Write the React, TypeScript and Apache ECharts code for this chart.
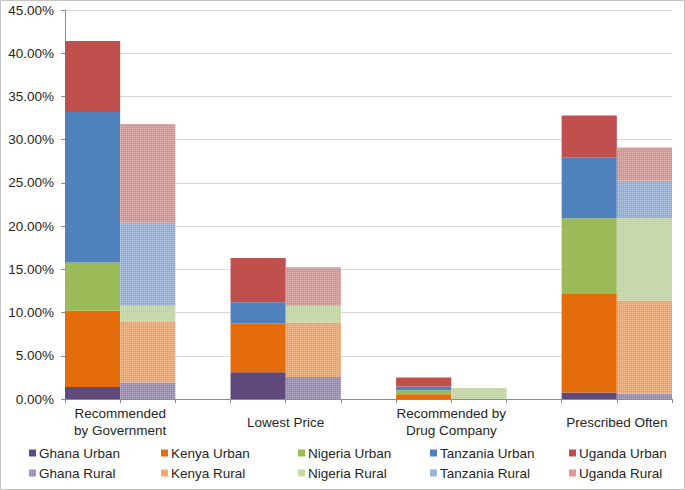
import React, { useEffect, useRef } from "react";
import * as echarts from "echarts";

const groups = ["Recommended\nby Government", "Lowest Price", "Recommended by\nDrug Company", "Prescribed Often"];
const countries = ["Ghana", "Kenya", "Nigeria", "Tanzania", "Uganda"];

const ghanaUrban = [1.4, 3.1, 0, 0.75];
const kenyaUrban = [8.8, 5.65, 0.55, 11.4];
const nigeriaUrban = [5.6, 0, 0.45, 8.75];
const tanzaniaUrban = [17.4, 2.45, 0.45, 7.0];
const ugandaUrban = [8.2, 5.1, 1.05, 4.9];

const ghanaRural = [1.9, 2.55, 0, 0.6];
const kenyaRural = [7.0, 6.3, 0, 10.8];
const nigeriaRural = [1.9, 1.95, 1.27, 9.5];
const tanzaniaRural = [9.6, 0, 0, 4.35];
const ugandaRural = [11.4, 4.45, 0, 3.85];

const yTicks = [0, 5, 10, 15, 20, 25, 30, 35, 40, 45];

const urbanColors = ["#604A7B", "#E46C0A", "#9BBB59", "#4F81BD", "#C0504D"];
const ruralColors = ["#9A8BB6", "#F3A262", "#C2D799", "#8FAFD9", "#D99391"];

const urbanData = [ghanaUrban, kenyaUrban, nigeriaUrban, tanzaniaUrban, ugandaUrban];
const ruralData = [ghanaRural, kenyaRural, nigeriaRural, tanzaniaRural, ugandaRural];

// slots: U, R, gap, U, R, gap, U, R, gap, U, R
const SLOTS = 11;
const slotCats = Array.from({ length: SLOTS }, (_, i) => "s" + i);

function place(values: number[], offset: number): number[] {
  const arr = new Array(SLOTS).fill(0);
  values.forEach((v, g) => {
    arr[g * 3 + offset] = v;
  });
  return arr;
}

const FONT = "'Liberation Sans', Arial, sans-serif";
const FS = 13.5;

export default function App() {
  const ref = useRef<HTMLDivElement>(null);
  useEffect(() => {
    if (!ref.current) return;
    const chart = echarts.init(ref.current, null, { renderer: "svg" });
    const decal = {
      symbol: "rect",
      symbolSize: 1,
      dashArrayX: [1, 1],
      dashArrayY: [1, 1],
      rotation: 0,
      color: "rgba(255,255,255,0.3)",
    };
    const series: any[] = [];
    countries.forEach((c, i) => {
      series.push({
        name: c + " Urban",
        type: "bar",
        stack: "all",
        xAxisIndex: 0,
        barCategoryGap: 0,
        barWidth: "100%",
        itemStyle: { color: urbanColors[i] },
        data: place(urbanData[i], 0),
      });
    });
    countries.forEach((c, i) => {
      series.push({
        name: c + " Rural",
        type: "bar",
        stack: "all",
        xAxisIndex: 0,
        barCategoryGap: 0,
        barWidth: "100%",
        itemStyle: { color: ruralColors[i], decal },
        data: place(ruralData[i], 1),
      });
    });
    const labelMap: Record<number, string> = {};
    groups.forEach((g, i) => {
      labelMap[i * 3 + 1] = g;
    });
    const colX = [29, 161, 298, 430, 569];
    const legends = countries.map((c, i) => ({
      orient: "vertical",
      left: colX[i],
      top: 446,
      itemWidth: 7,
      itemHeight: 7,
      itemGap: 6,
      icon: "rect",
      padding: 0,
      textStyle: { fontFamily: FONT, fontSize: FS, color: "#262626", lineHeight: 14, padding: [0, 0, 0, -2] },
      data: [c + " Urban", c + " Rural"],
    }));
    chart.setOption({
      animation: false,
      backgroundColor: "#ffffff",
      textStyle: { fontFamily: FONT },
      grid: { left: 65, right: 13, top: 10, bottom: 91, containLabel: false },
      legend: legends,
      graphic: [
        {
          type: "rect",
          shape: { x: 0.5, y: 0.5, width: 684, height: 489 },
          style: { fill: "none", stroke: "#c4c4c4", lineWidth: 1 },
          silent: true,
        },
      ],
      xAxis: [
        {
          type: "category",
          data: slotCats,
          boundaryGap: true,
          axisLine: { show: true, lineStyle: { color: "#8c8c8c" } },
          axisTick: { show: true, length: 4, interval: 0, lineStyle: { color: "#8c8c8c" } },
          axisLabel: { show: false },
          splitLine: { show: false },
        },
        {
          type: "value",
          min: 0,
          max: SLOTS,
          interval: 1,
          position: "bottom",
          axisLine: { show: false },
          axisTick: { show: false },
          splitLine: { show: false },
          axisLabel: {
            show: true,
            showMinLabel: false,
            showMaxLabel: false,
            margin: 23,
            verticalAlign: "middle",
            fontFamily: FONT,
            fontSize: FS,
            lineHeight: 17,
            color: "#262626",
            formatter: (v: number) => labelMap[Math.round(v)] || "",
          },
        },
      ],
      yAxis: {
        type: "value",
        min: yTicks[0],
        max: yTicks[yTicks.length - 1],
        interval: 5,
        axisLine: { show: true, lineStyle: { color: "#8c8c8c" } },
        axisTick: { show: true, length: 4, lineStyle: { color: "#8c8c8c" } },
        splitLine: { show: true, lineStyle: { color: "#d9d9d9", width: 1 } },
        axisLabel: {
          margin: 11,
          fontFamily: FONT,
          fontSize: FS,
          color: "#262626",
          formatter: (v: number) => v.toFixed(2) + "%",
        },
      },
      series,
    });
    return () => chart.dispose();
  }, []);
  return <div ref={ref} style={{ position: "fixed", left: 0, top: 0, width: 685, height: 490 }} />;
}
